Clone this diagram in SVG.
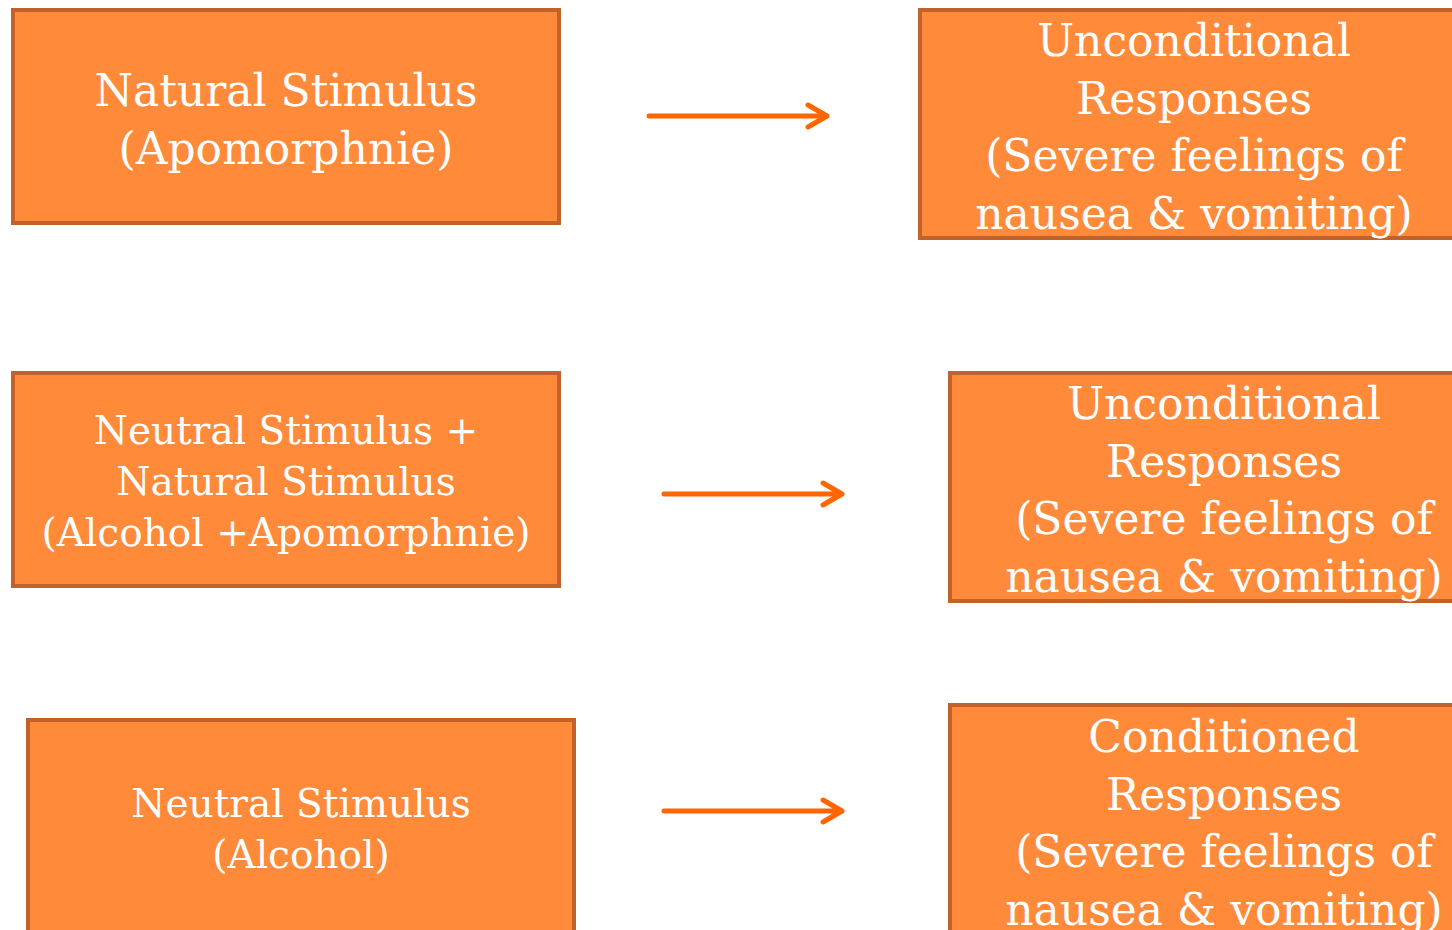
<svg xmlns="http://www.w3.org/2000/svg" width="1452" height="930" viewBox="0 0 1452 930">
<defs>
<style>
.box{fill:#FF8A3A;stroke:#C0622A;stroke-width:4}
.t{font-family:"DejaVu Serif","Liberation Serif",serif;fill:#FFFFFF;text-anchor:middle}
.big{font-size:44px}
.mid{font-size:39px}
.arr{stroke:#FF6600;stroke-width:5;fill:none;stroke-linecap:round;stroke-linejoin:round}
</style>
</defs>
<rect width="1452" height="930" fill="#FFFFFF"/>
<g id="n1">
<rect class="box" x="13" y="10" width="546" height="213"/>
<text class="t big" x="286" y="106">Natural Stimulus</text>
<text class="t big" x="286" y="164">(Apomorphnie)</text>
</g>
<g id="r1">
<rect class="box" x="920" y="10" width="540" height="228"/>
<text class="t big" x="1194" y="56">Unconditional</text>
<text class="t big" x="1194" y="114">Responses</text>
<text class="t big" x="1194" y="171">(Severe feelings of</text>
<text class="t big" x="1194" y="229">nausea &amp; vomiting)</text>
</g>
<g id="n2">
<rect class="box" x="13" y="373" width="546" height="213"/>
<text class="t mid" x="286" y="444">Neutral Stimulus +</text>
<text class="t mid" x="286" y="495">Natural Stimulus</text>
<text class="t mid" x="286" y="546">(Alcohol +Apomorphnie)</text>
</g>
<g id="r2">
<rect class="box" x="950" y="373" width="510" height="228"/>
<text class="t big" x="1224" y="419">Unconditional</text>
<text class="t big" x="1224" y="477">Responses</text>
<text class="t big" x="1224" y="534">(Severe feelings of</text>
<text class="t big" x="1224" y="592">nausea &amp; vomiting)</text>
</g>
<g id="n3">
<rect class="box" x="28" y="720" width="546" height="230"/>
<text class="t mid" x="301" y="817">Neutral Stimulus</text>
<text class="t mid" x="301" y="868">(Alcohol)</text>
</g>
<g id="r3">
<rect class="box" x="950" y="705" width="510" height="245"/>
<text class="t big" x="1224" y="752">Conditioned</text>
<text class="t big" x="1224" y="810">Responses</text>
<text class="t big" x="1224" y="867">(Severe feelings of</text>
<text class="t big" x="1224" y="925">nausea &amp; vomiting)</text>
</g>
<g id="connectors">
<path class="arr" d="M649 116 H827 M808 105 L827 116 L808 127"/>
<path class="arr" d="M664 494 H842 M823 483 L842 494 L823 505"/>
<path class="arr" d="M664 811 H842 M823 800 L842 811 L823 822"/>
</g>
</svg>
